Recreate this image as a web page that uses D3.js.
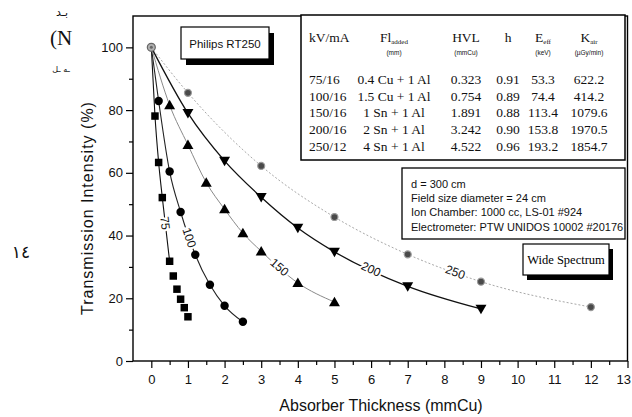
<!DOCTYPE html>
<html><head><meta charset="utf-8">
<script src="https://cdn.jsdelivr.net/npm/d3@7"></script>
<style>
body{margin:0;background:#fff;}
svg{display:block;}
</style></head><body>
<svg id="chart" width="632" height="417"></svg>
<script>
// Transmission curves: absorber thickness (mmCu) vs transmitted intensity (%)
const thick75  = [0, 0.1, 0.2, 0.3, 0.5, 0.6, 0.7, 0.8, 0.9, 1.0];
const trans75  = [100, 78.1, 63.3, 52.1, 31.8, 27.1, 22.9, 19.7, 17.0, 14.1];
const thick100 = [0, 0.2, 0.5, 0.8, 1.2, 1.6, 2.0, 2.5];
const trans100 = [100, 82.9, 60.4, 47.5, 33.9, 24.3, 17.6, 12.5];
const thick150 = [0, 0.5, 1.0, 1.5, 2.0, 2.5, 3.0, 4.0, 5.0];
const trans150 = [100, 81.6, 68.9, 56.9, 48.4, 40.8, 35.0, 24.9, 18.8];
const thick200 = [0, 1, 2, 3, 4, 5, 7, 9];
const trans200 = [100, 79.0, 63.8, 52.2, 42.4, 34.8, 23.8, 16.6];
const thick250 = [0, 1, 3, 5, 7, 9, 12];
const trans250 = [100, 85.5, 62.2, 45.9, 34.0, 25.3, 17.2];

// Thickness at which each curve's kV label sits
const kvLabels = ["75", "100", "150", "200", "250"];
const labelThick = [0.38, 1.04, 3.5, 6.0, 8.3];
// The 75 kV fitted curve stops at this thickness
const fitEnd75 = 0.5;

const xTicks = d3.range(0, 14);
const xMinor = d3.range(0.5, 13, 1);
const yTicks = [0, 20, 40, 60, 80, 100];
const yMinor = [10, 30, 50, 70, 90];

// Beam quality table
const tableKvMa   = ["75/16", "100/16", "150/16", "200/16", "250/12"];
const tableFilter = ["0.4 Cu + 1 Al", "1.5 Cu + 1 Al", "1 Sn + 1 Al", "2 Sn + 1 Al", "4 Sn + 1 Al"];
const tableHvl    = ["0.323", "0.754", "1.891", "3.242", "4.522"];
const tableH      = ["0.91", "0.89", "0.88", "0.90", "0.96"];
const tableEeff   = ["53.3", "74.4", "113.4", "153.8", "193.2"];
const tableKair   = ["622.2", "414.2", "1079.6", "1970.5", "1854.7"];

const setupLines = [
  "d = 300 cm",
  "Field size diameter = 24 cm",
  "Ion Chamber: 1000 cc, LS-01 #924",
  "Electrometer: PTW UNIDOS 10002 #20176"
];

const svg = d3.select("#chart");
const SANS = "'Liberation Sans', Arial, sans-serif";
const SERIF = "'Liberation Serif', 'Times New Roman', serif";

const x = d3.scaleLinear().domain([-0.5, 13]).range([133, 627.5]);
const y = d3.scaleLinear().domain([0, 110]).range([361, 16]);

const series = [
  {kv: "75",  t: thick75,  v: trans75,  marker: "square"},
  {kv: "100", t: thick100, v: trans100, marker: "circle"},
  {kv: "150", t: thick150, v: trans150, marker: "up"},
  {kv: "200", t: thick200, v: trans200, marker: "down"},
  {kv: "250", t: thick250, v: trans250, marker: "dot"}
].map(s => ({...s, pts: s.t.map((t, i) => [t, s.v[i]])}));

const lineStyle = {
  "75":  {stroke: "#111", width: 1.1, dash: null},
  "100": {stroke: "#222", width: 1.1, dash: null},
  "150": {stroke: "#8a8a8a", width: 1.0, dash: null},
  "200": {stroke: "#111", width: 1.3, dash: null},
  "250": {stroke: "#a8a8a8", width: 1.0, dash: "2,2"}
};

// Frame
svg.append("rect")
  .attr("x", x(-0.5)).attr("y", y(110))
  .attr("width", x(13) - x(-0.5)).attr("height", y(0) - y(110))
  .attr("fill", "none").attr("stroke", "#000").attr("stroke-width", 1.4);

// Axes
const gx = svg.append("g").attr("transform", `translate(0,${y(0)})`)
  .call(d3.axisBottom(x).tickValues(xTicks).tickSize(7).tickPadding(7).tickFormat(d3.format("d")));
const gxm = svg.append("g").attr("transform", `translate(0,${y(0)})`)
  .call(d3.axisBottom(x).tickValues(xMinor).tickSize(4).tickFormat(""));
const gy = svg.append("g").attr("transform", `translate(${x(-0.5)},0)`)
  .call(d3.axisLeft(y).tickValues(yTicks).tickSize(7).tickPadding(3).tickFormat(d3.format("d")));
const gym = svg.append("g").attr("transform", `translate(${x(-0.5)},0)`)
  .call(d3.axisLeft(y).tickValues(yMinor).tickSize(4).tickFormat(""));
[gx, gxm, gy, gym].forEach(g => {
  g.select(".domain").remove();
  g.selectAll("line").attr("stroke", "#000").attr("stroke-width", 1.2);
  g.selectAll("text").attr("font-family", SANS).attr("font-size", 13).attr("fill", "#111");
});
// last x label sits against the right edge of the page
gx.selectAll(".tick text").filter(d => d === 13).attr("text-anchor", "end").attr("dx", 3);

// Axis titles
svg.append("text")
  .attr("x", 381).attr("y", 411)
  .attr("text-anchor", "middle")
  .attr("font-family", SANS).attr("font-size", 16).attr("fill", "#111")
  .text("Absorber Thickness (mmCu)");
svg.append("text")
  .attr("transform", "translate(93,208) rotate(-90)")
  .attr("text-anchor", "middle")
  .attr("font-family", SANS).attr("font-size", 16).attr("letter-spacing", 1).attr("fill", "#111")
  .text("Transmission Intensity (%)");

// Fitted curves
const lineGen = d3.line().x(d => x(d[0])).y(d => y(d[1])).curve(d3.curveMonotoneX);
series.forEach(s => {
  const st = lineStyle[s.kv];
  const pts = s.kv === "75" ? s.pts.filter(p => p[0] <= fitEnd75) : s.pts;
  svg.append("path")
    .attr("d", lineGen(pts))
    .attr("fill", "none")
    .attr("stroke", st.stroke)
    .attr("stroke-width", st.width)
    .attr("stroke-dasharray", st.dash);
});

// Curve labels, placed on the curve and turned along it
function interp(s, t) {
  for (let i = 0; i < s.t.length - 1; i++) {
    if (t >= s.t[i] && t <= s.t[i + 1]) {
      const f = (t - s.t[i]) / (s.t[i + 1] - s.t[i]);
      return {v: s.v[i] + f * (s.v[i + 1] - s.v[i]), i};
    }
  }
  return {v: s.v[s.v.length - 1], i: s.t.length - 2};
}
series.forEach((s, k) => {
  const t = labelThick[k];
  const r = interp(s, t);
  const dx = x(s.t[r.i + 1]) - x(s.t[r.i]);
  const dy = y(s.v[r.i + 1]) - y(s.v[r.i]);
  const ang = Math.atan2(dy, dx) * 180 / Math.PI;
  svg.append("text")
    .attr("transform", `translate(${x(t)},${y(r.v)}) rotate(${ang})`)
    .attr("text-anchor", "middle").attr("dy", "0.35em")
    .attr("font-family", SANS).attr("font-size", 12).attr("fill", "#111")
    .attr("stroke", "#fff").attr("stroke-width", 4).attr("paint-order", "stroke")
    .text(kvLabels[k]);
});

// Markers
const sym = {
  square: d3.symbol(d3.symbolSquare, 56),
  circle: d3.symbol(d3.symbolCircle, 56),
  up: d3.symbol(d3.symbolTriangle, 52),
  down: d3.symbol(d3.symbolTriangle, 52),
  dot: d3.symbol(d3.symbolCircle, 38)
};
series.forEach(s => {
  s.pts.forEach(p => {
    if (p[0] === 0) return;
    const rot = s.marker === "down" ? 180 : 0;
    const ty = s.marker === "up" ? 1 : (s.marker === "down" ? -1 : 0);
    svg.append("path")
      .attr("d", sym[s.marker]())
      .attr("transform", `translate(${x(p[0])},${y(p[1]) + ty}) rotate(${rot})`)
      .attr("fill", s.marker === "dot" ? "#4a4a4a" : "#000")
      .attr("stroke", s.marker === "dot" ? "#9a9a9a" : "none")
      .attr("stroke-width", 1.2);
  });
});
// Shared unattenuated point
svg.append("circle")
  .attr("cx", x(thick75[0])).attr("cy", y(trans75[0])).attr("r", 4)
  .attr("fill", "#b0b0b0").attr("stroke", "#666").attr("stroke-width", 1.2);
svg.append("circle")
  .attr("cx", x(thick75[0])).attr("cy", y(trans75[0])).attr("r", 1.5)
  .attr("fill", "#666");

// Shadowed caption boxes
function shadowBox(bx, by, bw, bh, ox, oy) {
  svg.append("rect").attr("x", bx + ox).attr("y", by + oy).attr("width", bw).attr("height", bh).attr("fill", "#000");
  svg.append("rect").attr("x", bx).attr("y", by).attr("width", bw).attr("height", bh)
    .attr("fill", "#fff").attr("stroke", "#000").attr("stroke-width", 1.2);
}
shadowBox(181, 27, 88, 32, 5, 6);
svg.append("text").attr("x", 225).attr("y", 48).attr("text-anchor", "middle")
  .attr("font-family", SANS).attr("font-size", 11.5).attr("fill", "#111").text("Philips RT250");

shadowBox(523, 244, 86, 31, 4, 5);
svg.append("text").attr("x", 566).attr("y", 264).attr("text-anchor", "middle")
  .attr("font-family", SERIF).attr("font-size", 12.5).attr("fill", "#000")
  .text("Wide Spectrum");

// Beam quality table
svg.append("rect").attr("x", 301).attr("y", 15).attr("width", 324).attr("height", 145)
  .attr("fill", "#fff").attr("stroke", "#000").attr("stroke-width", 1.5);
const colX = {kv: 309, fl: 394, hvl: 466, h: 508, e: 543, k: 589};
const head = svg.append("g").attr("font-family", SERIF).attr("fill", "#111");
head.append("text").attr("x", colX.kv).attr("y", 42).attr("font-size", 13.5).text("kV/mA");
function subHead(cx, main, sub) {
  const t = head.append("text").attr("x", cx).attr("y", 42).attr("text-anchor", "middle").attr("font-size", 13.5);
  t.append("tspan").text(main);
  t.append("tspan").attr("font-size", 7).attr("dy", 2).text(sub);
}
subHead(colX.fl, "Fl", "added");
head.append("text").attr("x", colX.hvl).attr("y", 42).attr("text-anchor", "middle").attr("font-size", 13.5).text("HVL");
head.append("text").attr("x", colX.h).attr("y", 42).attr("text-anchor", "middle").attr("font-size", 13.5).text("h");
subHead(colX.e, "E", "eff");
subHead(colX.k, "K", "air");
[["(mm)", colX.fl], ["(mmCu)", colX.hvl], ["(keV)", colX.e], ["(\u00b5Gy/min)", colX.k]].forEach(([u, cx]) => {
  head.append("text").attr("x", cx).attr("y", 55).attr("text-anchor", "middle")
    .attr("font-family", SANS).attr("font-size", 6.5).text(u);
});
tableKvMa.forEach((kv, i) => {
  const by = 84 + i * 16.7;
  const row = svg.append("g").attr("font-family", SERIF).attr("font-size", 13.5).attr("fill", "#111");
  row.append("text").attr("x", colX.kv).attr("y", by).text(kv);
  [[tableFilter[i], colX.fl], [tableHvl[i], colX.hvl], [tableH[i], colX.h], [tableEeff[i], colX.e], [tableKair[i], colX.k]]
    .forEach(([txt, cx]) => row.append("text").attr("x", cx).attr("y", by).attr("text-anchor", "middle").text(txt));
});

// Measurement setup box
svg.append("rect").attr("x", 402).attr("y", 168).attr("width", 223).attr("height", 71)
  .attr("fill", "#fff").attr("stroke", "#000").attr("stroke-width", 1.3);
setupLines.forEach((l, i) => {
  svg.append("text").attr("x", 411).attr("y", 188 + i * 14.2)
    .attr("font-family", SANS).attr("font-size", 11).attr("fill", "#111").text(l);
});

// Margin text
const margin = svg.append("g").attr("font-family", "'DejaVu Sans', sans-serif").attr("fill", "#111");
margin.append("text").attr("x", 62).attr("y", 16).attr("text-anchor", "middle").attr("font-size", 11).text("بـد");
margin.append("text").attr("x", 61).attr("y", 45).attr("text-anchor", "middle")
  .attr("font-family", SERIF).attr("font-size", 21).text("(N");
margin.append("text").attr("x", 61).attr("y", 72).attr("text-anchor", "middle").attr("font-size", 8).text("ـه ـل");
margin.append("text").attr("x", 21).attr("y", 258).attr("text-anchor", "middle").attr("font-size", 17).text("١٤");
</script>
</body></html>
